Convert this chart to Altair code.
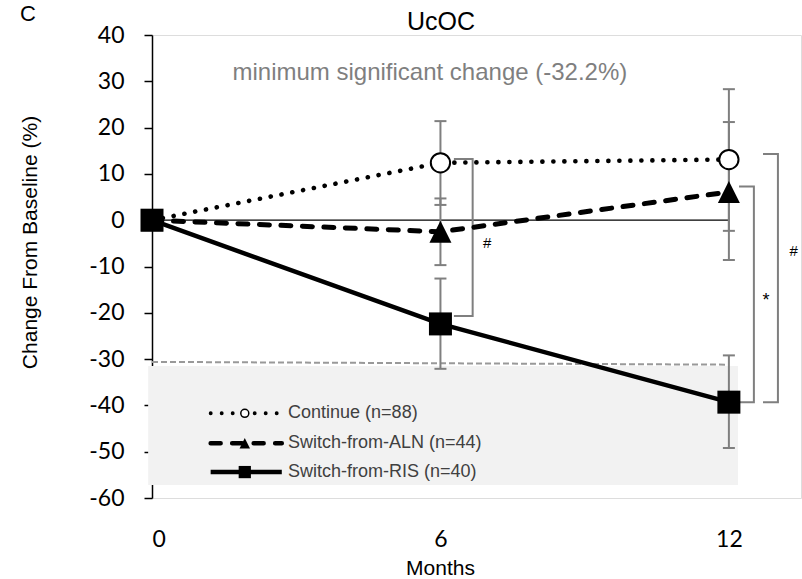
import altair as alt
import pandas as pd

# ---------------- data ----------------
months = [0, 6, 12]
series_names = ["Continue (n=88)", "Switch-from-ALN (n=44)", "Switch-from-RIS (n=40)"]

continue_mean = [0, 12.4, 13.1]
continue_lo = [None, 3.3, -2.3]
continue_hi = [None, 21.4, 28.3]

aln_mean = [0, -2.5, 6.1]
aln_lo = [None, -9.7, -8.6]
aln_hi = [None, 4.7, 21.2]

ris_mean = [0, -22.4, -39.3]
ris_lo = [None, -32.1, -49.2]
ris_hi = [None, -12.6, -29.2]

title_text = "UcOC"
panel_letter = "C"
msc_text = "minimum significant change (-32.2%)"
msc_line_month = [0, 12]
msc_line_value = [-30.6, -31.2]
shade_month = [-0.08, 12.19]
shade_value = [-31.5, -57.2]

# significance brackets: arm start, bar x, top, bottom, label, label x, label y
bracket_arm = [6.28, 12.21, 12.71]
bracket_bar = [6.67, 12.52, 13.02]
bracket_top = [13.2, 7.3, 14.3]
bracket_bottom = [-20.7, -39.3, -39.3]
bracket_label = ["#", "*", "#"]
bracket_label_x = [6.97, 12.77, 13.35]
bracket_label_y = [-6.0, -18.6, -7.8]

# ---------------- scales / axes ----------------
xs = alt.Scale(domain=[0, 13.5], nice=False, zero=False)
ys = alt.Scale(domain=[-60, 40], nice=False, zero=False)

xaxis = alt.Axis(values=months, title="Months", domain=False, ticks=False, tickSize=0,
                 grid=False, labelFont="Lato", labelFontSize=23, labelColor="black",
                 labelPadding=41, labelBaseline="middle",
                 labelExpr="toString(datum.value)",
                 titleFont="Liberation Sans", titleFontSize=21, titleFontWeight="normal",
                 titleColor="black", titleX=288, titleY=70, titleBaseline="middle",
                 titleAlign="center", titleAnchor="start")
yaxis = alt.Axis(values=list(range(-60, 41, 10)), title="Change From Baseline (%)",
                 grid=False, domainColor="black", domainWidth=1.5, tickColor="black",
                 tickWidth=1.5, tickSize=8, labelFont="Lato", labelFontSize=23,
                 labelColor="black", labelPadding=20,
                 labelExpr="toString(datum.value)",
                 titleFont="Liberation Sans", titleFontSize=21, titleFontWeight="normal",
                 titleColor="black", titleAngle=-90, titleX=-122, titleY=207,
                 titleAlign="center", titleBaseline="middle", titleAnchor="start")


def X(f):
    return alt.X(f"{f}:Q", scale=xs, axis=xaxis)


def Y(f):
    return alt.Y(f"{f}:Q", scale=ys, axis=yaxis)


# ---------------- tables ----------------
means = {"c": continue_mean, "a": aln_mean, "r": ris_mean}
los = {"c": continue_lo, "a": aln_lo, "r": ris_lo}
his = {"c": continue_hi, "a": aln_hi, "r": ris_hi}


def series_df(k):
    return pd.DataFrame({"month": months, "v": means[k]})


err_rows = []
cap_rows = []
for k in ["c", "a", "r"]:
    for m, lo, hi in zip(months, los[k], his[k]):
        if lo is None:
            continue
        err_rows.append({"month": m, "lo": lo, "hi": hi})
        cap_rows.append({"month": m, "v": lo})
        cap_rows.append({"month": m, "v": hi})
err_df = pd.DataFrame(err_rows)
cap_df = pd.DataFrame(cap_rows)

shade_df = pd.DataFrame({"x": [shade_month[0]], "x2": [shade_month[1]],
                         "y": [shade_value[0]], "y2": [shade_value[1]]})
msc_df = pd.DataFrame({"month": msc_line_month, "v": msc_line_value})
zero_df = pd.DataFrame({"month": [months[0]], "m2": [months[-1]], "v": [0]})

br_rows = []
for i in range(len(bracket_arm)):
    pts = [(bracket_arm[i], bracket_top[i]), (bracket_bar[i], bracket_top[i]),
           (bracket_bar[i], bracket_bottom[i]), (bracket_arm[i], bracket_bottom[i])]
    for j, (bx, by) in enumerate(pts):
        br_rows.append({"id": i, "seq": j, "x": bx, "y": by})
br_df = pd.DataFrame(br_rows)
br_lab_df = pd.DataFrame({"x": bracket_label_x, "y": bracket_label_y, "t": bracket_label,
                          "s": [15, 18, 15]})

GRAY = "#7f7f7f"

# ---------------- layers ----------------
shade = alt.Chart(shade_df).mark_rect(color="#f2f2f2").encode(
    x=X("x"), x2="x2", y=Y("y"), y2="y2")
msc_line = alt.Chart(msc_df).mark_line(color="#999999", strokeWidth=2, strokeDash=[6, 3]).encode(
    x=X("month"), y=Y("v"))
zero_line = alt.Chart(zero_df).mark_rule(color="black", strokeWidth=1.3).encode(
    x=X("month"), x2="m2", y=Y("v"))
err = alt.Chart(err_df).mark_rule(color=GRAY, strokeWidth=2).encode(
    x=X("month"), y=Y("lo"), y2="hi")
caps = alt.Chart(cap_df).mark_tick(orient="horizontal", size=12, thickness=2,
                                   color=GRAY, opacity=1).encode(x=X("month"), y=Y("v"))
brackets = alt.Chart(br_df).mark_line(color=GRAY, strokeWidth=2, strokeJoin="miter").encode(
    x=X("x"), y=Y("y"), detail="id:N", order="seq:Q")
br_labels = alt.Chart(br_lab_df).mark_text(font="Liberation Sans", color="black",
                                           align="center", baseline="alphabetic").encode(
    x=X("x"), y=Y("y"), text="t:N", size=alt.Size("s:Q", scale=None, legend=None))

line_c = alt.Chart(series_df("c")).mark_line(color="black", strokeWidth=4.6,
                                             strokeDash=[0.1, 10.9], strokeCap="round").encode(
    x=X("month"), y=Y("v"))
line_a = alt.Chart(series_df("a")).mark_line(color="black", strokeWidth=5,
                                             strokeDash=[10, 11.5], strokeCap="round").encode(
    x=X("month"), y=Y("v"))
line_r = alt.Chart(series_df("r")).mark_line(color="black", strokeWidth=4.5).encode(
    x=X("month"), y=Y("v"))

TRI = "M0,-1L1,1L-1,1Z"
pt_c = alt.Chart(series_df("c")).mark_point(shape="circle", filled=True, fill="white",
                                            stroke="black", strokeWidth=2, size=372,
                                            opacity=1).encode(x=X("month"), y=Y("v"))
pt_a = alt.Chart(series_df("a")).mark_point(shape=TRI, filled=True, color="black", size=484,
                                            opacity=1).encode(x=X("month"), y=Y("v"))
pt_r = alt.Chart(series_df("r")).mark_point(shape="square", filled=True, color="black",
                                            size=529, opacity=1).encode(x=X("month"), y=Y("v"))

# annotations (data space)
ann_df = pd.DataFrame({
    "x": [6.01, 5.78, -2.58],
    "y": [41.0, 30.2, 43.0],
    "t": [title_text, msc_text, panel_letter],
    "s": [25, 24, 22],
    "c": ["black", "#7f7f7f", "black"],
})
ann = alt.Chart(ann_df).mark_text(font="Liberation Sans", align="center",
                                  baseline="alphabetic").encode(
    x=X("x"), y=Y("y"), text="t:N", size=alt.Size("s:Q", scale=None, legend=None),
    color=alt.Color("c:N", scale=None, legend=None))

# ---------------- in-plot legend ----------------
leg_y = [-41.7, -48.2, -54.4]
leg_x0, leg_x1, leg_xm, leg_xt = 1.22, 2.70, 1.93, 2.83
leg_lines = []
for i, yv in enumerate(leg_y):
    leg_lines.append(pd.DataFrame({"month": [leg_x0, leg_x1], "v": [yv, yv]}))

lg_c = alt.Chart(leg_lines[0]).mark_line(color="black", strokeWidth=3.8,
                                          strokeDash=[0.1, 10.9], strokeCap="round").encode(
    x=X("month"), y=Y("v"))
lg_a = alt.Chart(leg_lines[1]).mark_line(color="black", strokeWidth=4.5,
                                          strokeDash=[10, 11.5], strokeCap="round").encode(
    x=X("month"), y=Y("v"))
lg_r = alt.Chart(leg_lines[2]).mark_line(color="black", strokeWidth=4.5).encode(
    x=X("month"), y=Y("v"))
lm_c = alt.Chart(pd.DataFrame({"month": [leg_xm], "v": [leg_y[0]]})).mark_point(
    shape="circle", filled=True, fill="white", stroke="black", strokeWidth=1.5, size=64,
    opacity=1).encode(x=X("month"), y=Y("v"))
lm_a = alt.Chart(pd.DataFrame({"month": [leg_xm], "v": [leg_y[1]]})).mark_point(
    shape=TRI, filled=True, color="black", size=110, opacity=1).encode(x=X("month"), y=Y("v"))
lm_r = alt.Chart(pd.DataFrame({"month": [leg_xm], "v": [leg_y[2]]})).mark_point(
    shape="square", filled=True, color="black", size=150, opacity=1).encode(x=X("month"), y=Y("v"))
lg_text = alt.Chart(pd.DataFrame({"month": [leg_xt] * 3, "v": leg_y, "t": series_names})).mark_text(
    font="Liberation Sans", fontSize=18, color="#404040", align="left", baseline="middle").encode(
    x=X("month"), y=Y("v"), text="t:N")

chart = alt.layer(
    shade, msc_line, zero_line, err, caps, brackets,
    line_c, line_a, line_r, pt_c, pt_a, pt_r,
    br_labels, ann,
    lg_c, lg_a, lg_r, lm_c, lm_a, lm_r, lg_text,
).properties(
    width=649, height=463,
    padding={"left": 152, "top": 35, "right": 1, "bottom": 81},
    autosize=alt.AutoSizeParams(type="none"),
).configure_view(strokeWidth=0).configure(background="white")

chart.save("out.html", embed_options={"renderer": "svg", "actions": False})
